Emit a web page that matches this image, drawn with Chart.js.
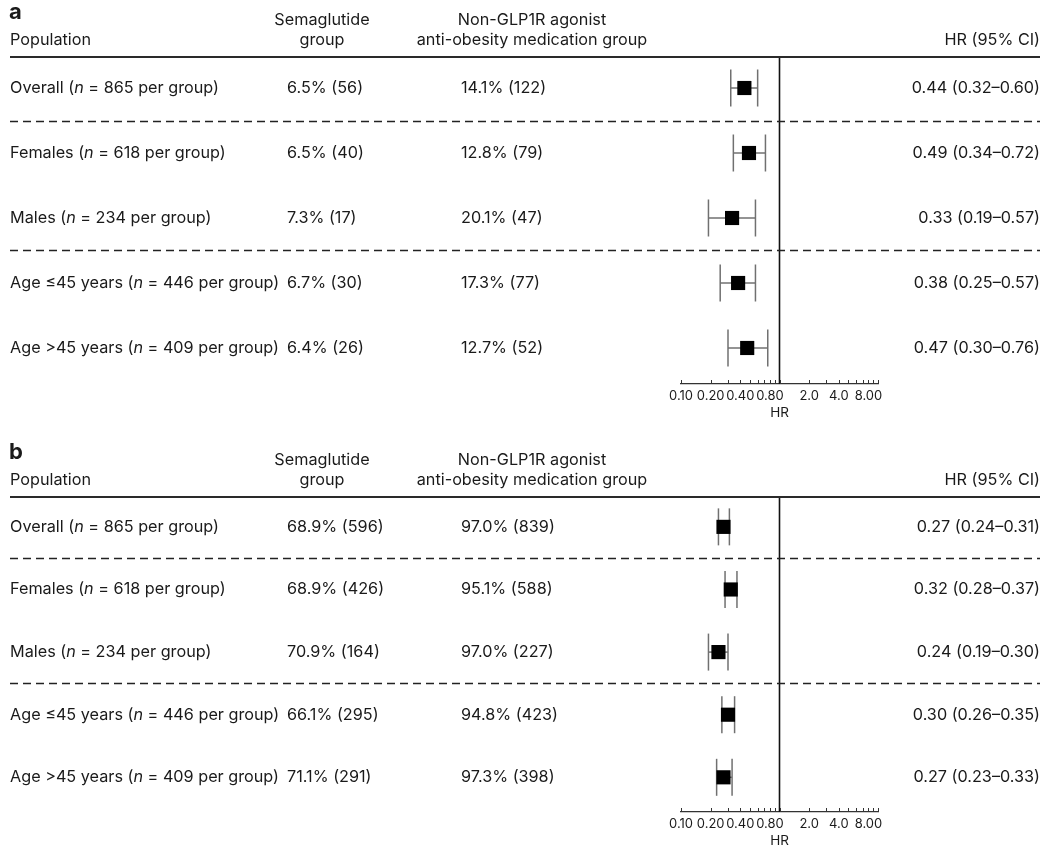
<!DOCTYPE html>
<html><head><meta charset="utf-8">
<script src="https://cdn.jsdelivr.net/npm/chart.js@4.4.1/dist/chart.umd.min.js"></script>
<style>
html,body{margin:0;padding:0;background:#fff;}
#wrap{position:relative;width:1050px;height:868px;overflow:hidden;}
canvas{position:absolute;left:0;}
</style></head><body>
<div id="wrap">
<canvas id="ca" width="1050" height="440" style="top:0"></canvas>
<canvas id="cb" width="1050" height="428" style="top:440px"></canvas>
</div>
<script>
// ---------- data ----------
const populations = ['Overall', 'Females', 'Males', 'Age \u226445 years', 'Age >45 years'];
const groupSizes = [865, 618, 234, 446, 409];

// panel a
const semaPctA = [6.5, 6.5, 7.3, 6.7, 6.4];
const semaNA = [56, 40, 17, 30, 26];
const compPctA = [14.1, 12.8, 20.1, 17.3, 12.7];
const compNA = [122, 79, 47, 77, 52];
const hrA = [0.44, 0.49, 0.33, 0.38, 0.47];
const loA = [0.32, 0.34, 0.19, 0.25, 0.30];
const hiA = [0.60, 0.72, 0.57, 0.57, 0.76];

// panel b
const semaPctB = [68.9, 68.9, 70.9, 66.1, 71.1];
const semaNB = [596, 426, 164, 295, 291];
const compPctB = [97.0, 95.1, 97.0, 94.8, 97.3];
const compNB = [839, 588, 227, 423, 398];
const hrB = [0.27, 0.32, 0.24, 0.30, 0.27];
const loB = [0.24, 0.28, 0.19, 0.26, 0.23];
const hiB = [0.31, 0.37, 0.30, 0.35, 0.33];

// axis ticks
const tickValues = [0.1,0.2,0.3,0.4,0.5,0.6,0.7,0.8,0.9,1,2,3,4,5,6,7,8,9,10];
const labeledTicks = [0.1, 0.2, 0.4, 0.8, 2, 4, 8];
const labeledTickText = ['0.10', '0.20', '0.40', '0.80', '2.0', '4.0', '8.00'];
const separatorsAfter = [0.5, 2.5];

// ---------- style ----------
const FONT = 'Inter, Lato, sans-serif';
const TXT = '#1a1a1a';
const Y_MIN = -0.477, Y_MAX = 4.554;

// fit body font size so the first row label is ~209px wide (as in the reference)
let FS = 16;
(function () {
  const c = document.createElement('canvas').getContext('2d');
  c.font = '16px ' + FONT;
  const w = c.measureText('Overall (n = 865 per group)').width;
  FS = Math.max(13, Math.min(18, 16 * 209 / w));
})();

function fmtPct(p, n) { return p.toFixed(1) + '% (' + n + ')'; }
function fmtHR(h, l, u) { return h.toFixed(2) + ' (' + l.toFixed(2) + '\u2013' + u.toFixed(2) + ')'; }

function tablePlugin(P) {
  return {
    id: 'table' + P.letter,
    afterDraw(chart) {
      const ctx = chart.ctx, ys = chart.scales.y, xs = chart.scales.x, ca = chart.chartArea;
      ctx.save();
      // tick marks (upwards)
      ctx.strokeStyle = '#333'; ctx.lineWidth = 1;
      xs.ticks.forEach(t => {
        const x = Math.round(xs.getPixelForValue(t.value)) + 0.5;
        ctx.beginPath(); ctx.moveTo(x, ca.bottom); ctx.lineTo(x, ca.bottom - 4); ctx.stroke();
      });
      // header rule
      ctx.strokeStyle = '#2a2a2a'; ctx.lineWidth = 2;
      ctx.beginPath(); ctx.moveTo(10, ca.top); ctx.lineTo(1040, ca.top); ctx.stroke();
      // dashed separators
      ctx.setLineDash([8, 5]); ctx.lineWidth = 1.5; ctx.strokeStyle = '#222';
      separatorsAfter.forEach(v => {
        const y = Math.round(ys.getPixelForValue(v)) + 0.5;
        ctx.beginPath(); ctx.moveTo(10, y); ctx.lineTo(1040, y); ctx.stroke();
      });
      ctx.setLineDash([]);
      // text
      ctx.fillStyle = TXT; ctx.textBaseline = 'middle';
      ctx.font = 'bold 22px ' + FONT; ctx.textAlign = 'left';
      ctx.fillText(P.letter, 9, 12);
      ctx.font = FS + 'px ' + FONT;
      ctx.textAlign = 'center';
      ctx.fillText('Semaglutide', 322, 20); ctx.fillText('group', 322, 40);
      ctx.fillText('Non-GLP1R agonist', 532, 20); ctx.fillText('anti-obesity medication group', 532, 40);
      ctx.textAlign = 'left'; ctx.fillText('Population', 10, 40);
      ctx.textAlign = 'right'; ctx.fillText('HR (95% CI)', 1040, 40);
      for (let i = 0; i < populations.length; i++) {
        const y = ys.getPixelForValue(i);
        ctx.textAlign = 'left';
        let x = 10;
        const parts = [[populations[i] + ' (', ''], ['n', 'italic '], [' = ' + groupSizes[i] + ' per group)', '']];
        parts.forEach(([s, st]) => {
          ctx.font = st + FS + 'px ' + FONT;
          ctx.fillText(s, x, y);
          x += ctx.measureText(s).width;
        });
        ctx.font = FS + 'px ' + FONT;
        ctx.fillText(fmtPct(P.semaPct[i], P.semaN[i]), 287, y);
        ctx.fillText(fmtPct(P.compPct[i], P.compN[i]), 461, y);
        ctx.textAlign = 'right';
        ctx.fillText(fmtHR(P.hr[i], P.lo[i], P.hi[i]), 1040, y);
      }
      ctx.restore();
    }
  };
}

function makeChart(id, P) {
  const datasets = [];
  // boxes first (dataset 0 is drawn on top)
  datasets.push({
    data: P.hr.map((v, i) => ({x: v, y: i})),
    showLine: false, pointStyle: 'rect', pointRadius: 10,
    pointBackgroundColor: '#000', pointBorderColor: '#000', pointBorderWidth: 0
  });
  for (let i = 0; i < P.hr.length; i++) {
    datasets.push({
      data: [{x: P.lo[i], y: i}, {x: P.hi[i], y: i}],
      showLine: true, borderColor: '#707070', borderWidth: 1.5,
      pointStyle: 'line', pointRotation: 90, pointRadius: 18.5,
      pointBorderColor: '#707070', pointBorderWidth: 1.5
    });
  }
  datasets.push({
    data: [{x: 1, y: Y_MIN}, {x: 1, y: Y_MAX}],
    showLine: true, borderColor: '#111', borderWidth: 1.6, pointRadius: 0
  });
  return new Chart(document.getElementById(id), {
    type: 'scatter',
    data: {datasets},
    plugins: [tablePlugin(P)],
    options: {
      responsive: false, animation: false, events: [],
      layout: {padding: {left: 681, right: 172, top: 57, bottom: 12}, autoPadding: false},
      plugins: {legend: {display: false}, tooltip: {enabled: false}},
      scales: {
        y: {type: 'linear', reverse: true, min: Y_MIN, max: Y_MAX, display: false},
        x: {
          type: 'logarithmic', min: 0.1, max: 10, position: 'bottom',
          afterBuildTicks: s => { s.ticks = tickValues.map(v => ({value: v})); },
          afterFit: s => { s.height = 44; },
          grid: {display: false, drawTicks: false},
          border: {display: true, color: '#333', width: 1.2},
          ticks: {
            autoSkip: false, maxRotation: 0, minRotation: 0, padding: 4,
            color: TXT, font: {family: FONT, size: 13},
            callback: v => { const k = labeledTicks.findIndex(t => Math.abs(t - v) < 1e-9); return k >= 0 ? labeledTickText[k] : ''; }
          },
          title: {display: true, text: 'HR', color: TXT, font: {family: FONT, size: 13.5}, padding: {top: 0, bottom: 7}}
        }
      }
    }
  });
}

makeChart('ca', {letter: 'a', semaPct: semaPctA, semaN: semaNA, compPct: compPctA, compN: compNA, hr: hrA, lo: loA, hi: hiA});
makeChart('cb', {letter: 'b', semaPct: semaPctB, semaN: semaNB, compPct: compPctB, compN: compNB, hr: hrB, lo: loB, hi: hiB});
</script>
</body></html>
